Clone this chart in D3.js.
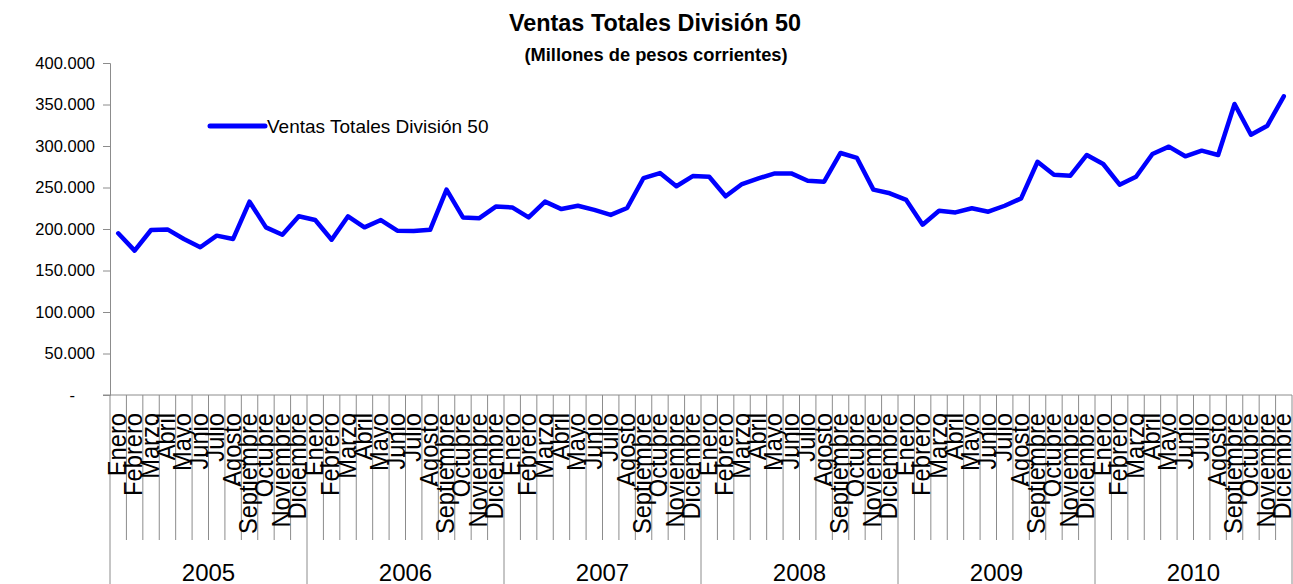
<!DOCTYPE html>
<html>
<head>
<meta charset="utf-8">
<script src="https://cdn.jsdelivr.net/npm/d3@7"></script>
<style>
  body { margin: 0; background: #fff; }
  svg { display: block; font-family: "Liberation Sans", Arial, sans-serif; }
  .axis path, .axis line { stroke: #8c8c8c; }
</style>
</head>
<body>
<script>
// data
var years = ["2005", "2006", "2007", "2008", "2009", "2010"];
var months = ["Enero", "Febrero", "Marzo", "Abril", "Mayo", "Junio", "Julio",
              "Agosto", "Septiembre", "Octubre", "Noviembre", "Diciembre"];
var ventas = [
  194800, 173900, 198800, 199500, 188000, 178000, 192000, 188000, 232900, 202000, 193000, 215300,
  210800, 187100, 215300, 202000, 210800, 198000, 197500, 199000, 247400, 214000, 213000, 227000,
  226000, 214000, 233000, 224000, 228000, 223000, 217000, 225300, 261400, 267400, 251500, 263800,
  263000, 239400, 254200, 261000, 267000, 267000, 258200, 257000, 291600, 285600, 247400, 243000,
  235000, 205200, 222000, 220000, 225000, 220800, 228000, 236900, 281000, 265300, 264200, 289200,
  278300, 253400, 263000, 290400, 299200, 287600, 294400, 289200, 350600, 313600, 324500, 359900
];
var yTicks = [0, 50000, 100000, 150000, 200000, 250000, 300000, 350000, 400000];
var seriesName = "Ventas Totales División 50";

var W = 1293, H = 584;
var plotLeft = 110, plotRight = 1292, plotTop = 63, plotBase = 395;

var svg = d3.select("body").append("svg")
    .attr("width", W)
    .attr("height", H);

// one key per month
var keys = [];
years.forEach(function(yr) {
  months.forEach(function(m) { keys.push(yr + "-" + m); });
});
var data = keys.map(function(k, i) {
  return { key: k, year: k.split("-")[0], month: k.split("-")[1], value: ventas[i] };
});

var x = d3.scaleBand().domain(keys).range([plotLeft, plotRight]).padding(0);
var y = d3.scaleLinear().domain([0, 400000]).range([plotBase, plotTop]);

var loc = d3.formatLocale({ decimal: ",", thousands: ".", grouping: [3], currency: ["$", ""] });

// y axis
var yAxis = svg.append("g")
    .attr("class", "axis")
    .attr("transform", "translate(" + plotLeft + ",0)")
    .call(d3.axisLeft(y).tickValues(yTicks).tickSize(7).tickPadding(8)
      .tickFormat(function(d) { return d === 0 ? "-" : loc.format(",")(d / 1000) + ".000"; }));
yAxis.selectAll("text")
    .attr("fill", "#000")
    .style("font-size", "16.5px")
    .style("font-family", "Liberation Sans, Arial, sans-serif");
yAxis.selectAll(".tick text").filter(function(d) { return d === 0; })
    .attr("x", -35);

// x axis line
svg.append("line")
    .attr("x1", plotLeft - 7).attr("x2", plotRight)
    .attr("y1", plotBase).attr("y2", plotBase)
    .attr("stroke", "#8c8c8c");

// category separators
var seps = d3.range(keys.length + 1);
svg.append("g").selectAll("line")
    .data(seps)
    .enter().append("line")
    .attr("x1", function(k) { return plotLeft + k * x.step(); })
    .attr("x2", function(k) { return plotLeft + k * x.step(); })
    .attr("y1", plotBase)
    .attr("y2", function(k) { return k % 12 === 0 ? H : 540; })
    .attr("stroke", "#8c8c8c");

// month labels
svg.append("g").selectAll("text")
    .data(data)
    .enter().append("text")
    .attr("transform", function(d) {
      return "translate(" + (x(d.key) + x.bandwidth() / 2 + 7.5) + ",413) rotate(-90) scale(1.03,1.12)";
    })
    .style("text-anchor", "end")
    .style("font-size", "23px")
    .text(function(d) { return d.month; });

// year labels
svg.append("g").selectAll("text")
    .data(years)
    .enter().append("text")
    .attr("x", function(yr) { return x(yr + "-Enero") + 6 * x.step(); })
    .attr("y", 581)
    .style("text-anchor", "middle")
    .style("font-size", "24px")
    .text(function(yr) { return yr; });

// the line
var line = d3.line()
    .x(function(d) { return x(d.key) + x.bandwidth() / 2; })
    .y(function(d) { return y(d.value); });

svg.append("path")
    .datum(data)
    .attr("fill", "none")
    .attr("stroke", "#0000ff")
    .attr("stroke-width", 4.5)
    .attr("stroke-linejoin", "round")
    .attr("stroke-linecap", "round")
    .attr("d", line);

// titles
svg.append("text")
    .attr("x", 655).attr("y", 31)
    .style("text-anchor", "middle")
    .style("font-size", "23.4px")
    .style("font-weight", "bold")
    .text("Ventas Totales División 50");
svg.append("text")
    .attr("x", 656).attr("y", 61)
    .style("text-anchor", "middle")
    .style("font-size", "18.3px")
    .style("font-weight", "bold")
    .text("(Millones de pesos corrientes)");

// legend
var legend = svg.append("g").attr("transform", "translate(210,126)");
legend.append("line")
    .attr("x1", 0).attr("x2", 55)
    .attr("stroke", "#0000ff")
    .attr("stroke-width", 5)
    .attr("stroke-linecap", "round");
legend.append("text")
    .attr("x", 57).attr("y", 6.5)
    .style("font-size", "19px")
    .text(seriesName);
</script>
</body>
</html>
